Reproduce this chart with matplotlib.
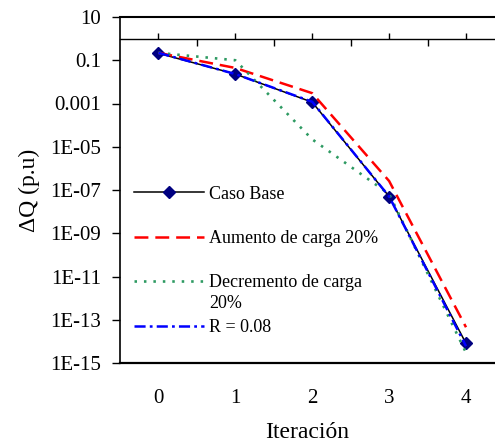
import numpy as np
import matplotlib
matplotlib.use("Agg")
import matplotlib.pyplot as plt
from matplotlib.ticker import FuncFormatter, NullLocator

plt.rcParams['font.family'] = ['Liberation Serif', 'DejaVu Serif']

# data (delta Q in p.u. per iteration)
iteracion = [0, 1, 2, 3, 4]
caso_base = [0.21, 0.023, 0.00115, 5e-8, 8e-15]
aumento = [0.22, 0.044, 0.003, 2.6e-7, 4.5e-14]
decremento = [0.22, 0.10, 2.2e-5, 6.5e-8, 3e-15]
r_008 = [0.22, 0.023, 0.0012, 5e-8, 6e-15]

labels = ["Caso Base", "Aumento de carga 20%", "Decremento de carga", "R = 0.08"]
y_ticks = [10.0 ** e for e in range(1, -16, -2)]


def fmt_y(v, pos):
    if v >= 1e-3:
        return "%g" % v
    return "1E-%02d" % round(-np.log10(v))


fig = plt.figure(figsize=(4.95, 4.43), dpi=100)
ax = fig.add_axes([120 / 495, 80 / 443, 1 - 120 / 495, 346 / 443])

ax.plot(iteracion, caso_base, color='black', lw=1.1, marker='D', ms=6.6,
        mfc='#000080', mec='#000080', label=labels[0], zorder=2)
lw = 1.8
ax.plot(iteracion, aumento, color='#FF0000', lw=lw, dashes=(10 / lw, 5 / lw),
        label=labels[1], zorder=3)
lw_g = 1.9
ax.plot(iteracion, decremento, color='#2E9A62', lw=lw_g, dashes=(1.8 / lw_g, 5.0 / lw_g),
        label=labels[2], zorder=3)
ax.plot(iteracion, r_008, color='#0000FF', lw=lw, dashes=(8 / lw, 3 / lw, 2 / lw, 3 / lw),
        label=labels[3], zorder=3)

ax.set_yscale('log')
ax.set_ylim(1e-15, 10)
ax.set_xlim(-0.5, 4.377)
ax.set_yticks(y_ticks)
ax.yaxis.set_minor_locator(NullLocator())
ax.yaxis.set_major_formatter(FuncFormatter(fmt_y))
ax.set_xticks(iteracion)
ax.tick_params(axis='y', direction='out', length=5.8, width=1, labelsize=15, pad=8)
ax.tick_params(axis='x', length=0, labelsize=15, pad=19)

ax.spines['right'].set_visible(False)
ax.spines['top'].set_linewidth(1.5)
ax.spines['left'].set_linewidth(1.2)
ax.spines['bottom'].set_linewidth(1.6)

# category axis crosses at 1
cross = (np.log10(1) + 15) / 16
sec = ax.secondary_xaxis(cross)
sec.set_xticks(iteracion)
sec.set_xticks(np.arange(0.5, 4, 1), minor=True)
sec.tick_params(which='major', direction='out', length=4.3, width=1, labeltop=False)
sec.tick_params(which='minor', direction='in', length=5, width=1, labeltop=False)
sec.spines['top'].set_linewidth(1)

ax.set_xlabel("Iteración", fontsize=17, labelpad=9.5)
ax.set_ylabel("ΔQ (p.u)", fontsize=17, labelpad=7)

leg = ax.legend(loc='upper left', bbox_to_anchor=(0.037, 0.513), frameon=False,
                fontsize=13, handlelength=3.9, handletextpad=0.28,
                labelspacing=1.52, borderpad=0, borderaxespad=0, numpoints=1)
ax.annotate("20%", xy=(0, 0), xycoords=leg.get_texts()[2], xytext=(0, -2.5),
            textcoords='offset points', va='top', ha='left', fontsize=13, zorder=6)

fig.savefig("out.png", dpi=100)
